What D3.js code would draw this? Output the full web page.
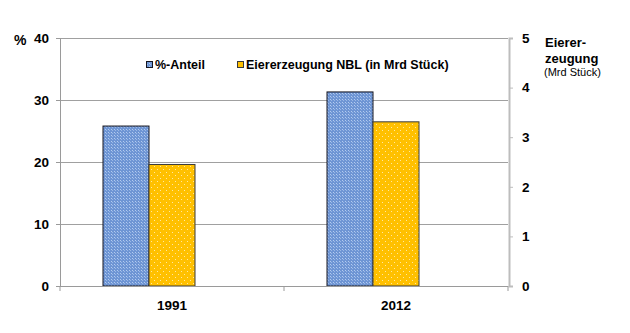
<!DOCTYPE html>
<html><head><meta charset="utf-8">
<script src="https://cdn.jsdelivr.net/npm/d3@7"></script>
<style>body{margin:0;background:#fff}svg{display:block}text{font-family:"Liberation Sans",Arial,sans-serif}</style>
</head><body>
<svg id="c" width="630" height="333"></svg>
<script>
const categories = ["1991", "2012"];
const seriesNames = ["%-Anteil", "Eiererzeugung NBL (in Mrd Stück)"];
const anteil = [25.8, 31.3];          // % (left axis)
const eiererzeugung = [2.45, 3.31];   // Mrd Stück (right axis)
const leftTicks = [0, 10, 20, 30, 40];
const rightTicks = [0, 1, 2, 3, 4, 5];
const slots = ["anteil", "eier", "empty"];

const svg = d3.select("#c");
const L = 60, R = 508, T = 38, B = 286;

const defs = svg.append("defs");
const pb = defs.append("pattern").attr("id","pBlue").attr("patternUnits","userSpaceOnUse").attr("width",3).attr("height",3);
pb.append("rect").attr("width",3).attr("height",3).attr("fill","#6E95D4");
pb.append("rect").attr("x",0).attr("y",0).attr("width",1).attr("height",1).attr("fill","#B3CBEF");
pb.append("rect").attr("x",1).attr("y",1).attr("width",1).attr("height",1).attr("fill","#9AB8E6");
const py = defs.append("pattern").attr("id","pYel").attr("patternUnits","userSpaceOnUse").attr("width",6).attr("height",6);
py.append("rect").attr("width",6).attr("height",6).attr("fill","#FFC000");
py.append("rect").attr("x",1).attr("y",1).attr("width",1).attr("height",1).attr("fill","#FFE8A0");
py.append("rect").attr("x",4).attr("y",4).attr("width",1).attr("height",1).attr("fill","#FFE8A0");

const x0 = d3.scaleBand().domain(categories).range([L, R]).paddingInner(0).paddingOuter(0);
const x1 = d3.scaleBand().domain(slots).range([0, x0.bandwidth()]).paddingInner(0).paddingOuter(0.935);
const yL = d3.scaleLinear().domain([0, 40]).range([B, T]);
const yR = d3.scaleLinear().domain([0, 5]).range([B, T]);

// gridlines
svg.append("g").selectAll("line").data(leftTicks.filter(d=>d>0)).join("line")
  .attr("x1", L).attr("x2", R).attr("y1", d=>yL(d)).attr("y2", d=>yL(d))
  .attr("stroke", "#A0A0A0").attr("stroke-width", 1).attr("shape-rendering","crispEdges");

// bars
const g = svg.append("g");
categories.forEach((c, i) => {
  g.append("rect").attr("x", x0(c) + x1("anteil")).attr("width", x1.bandwidth())
    .attr("y", yL(anteil[i])).attr("height", B - yL(anteil[i]))
    .attr("fill", "url(#pBlue)").attr("stroke", "#14141e").attr("stroke-width", 1);
  g.append("rect").attr("x", x0(c) + x1("eier")).attr("width", x1.bandwidth())
    .attr("y", yR(eiererzeugung[i])).attr("height", B - yR(eiererzeugung[i]))
    .attr("fill", "url(#pYel)").attr("stroke", "#3a3a3a").attr("stroke-width", 1);
});

// left axis
const axL = svg.append("g").attr("transform", `translate(${L},0)`)
  .call(d3.axisLeft(yL).tickValues(leftTicks).tickSize(4).tickPadding(7));
axL.select(".domain").attr("stroke", "#9A9A9A");
axL.selectAll(".tick line").attr("stroke", "#9A9A9A");
axL.selectAll(".tick text").attr("font-size", 13.5).attr("font-weight", "bold").attr("fill", "#000");

// right axis
const axR = svg.append("g").attr("transform", `translate(${R + 1},0)`)
  .call(d3.axisRight(yR).tickValues(rightTicks).tickFormat(d3.format("d")).tickSize(4).tickPadding(9));
axR.select(".domain").attr("stroke", "#BDBDBD").attr("stroke-width", 2);
axR.selectAll(".tick line").attr("stroke", "#BDBDBD");
axR.selectAll(".tick text").attr("font-size", 13.5).attr("font-weight", "bold").attr("fill", "#000");

// bottom axis
svg.append("line").attr("x1", L).attr("x2", R).attr("y1", B).attr("y2", B)
  .attr("stroke", "#9A9A9A").attr("shape-rendering","crispEdges");
const xb = svg.append("g").attr("transform", `translate(0,${B})`)
  .call(d3.axisBottom(x0).tickSize(0).tickPadding(14));
xb.select(".domain").remove();
xb.selectAll(".tick text").attr("font-size", 13.5).attr("font-weight", "bold").attr("fill", "#000");
svg.append("g").selectAll("line").data([L, x0(categories[1]), R]).join("line")
  .attr("x1", d=>d).attr("x2", d=>d).attr("y1", B).attr("y2", B + 5)
  .attr("stroke", "#9A9A9A");

// axis titles
svg.append("text").attr("x", 14).attr("y", 45).attr("font-size", 14).attr("font-weight", "bold").text("%");
const rt = svg.append("text").attr("x", 545).attr("font-weight", "bold").attr("font-size", 13);
rt.append("tspan").attr("x", 545).attr("y", 47).text("Eierer-");
rt.append("tspan").attr("x", 545).attr("y", 63).text("zeugung");
svg.append("text").attr("x", 544).attr("y", 76).attr("font-size", 11).text("(Mrd Stück)");

// legend
const leg = [{n: seriesNames[0], f: "url(#pBlue)", s: "#14141e", x: 146}, {n: seriesNames[1], f: "#FFC000", s: "#3a3a3a", x: 237}];
const lg = svg.append("g").selectAll("g").data(leg).join("g").attr("transform", d=>`translate(${d.x},0)`);
lg.append("rect").attr("x", 0.5).attr("y", 61.5).attr("width", 6).attr("height", 6).attr("fill", d=>d.f).attr("stroke", d=>d.s);
lg.append("text").attr("x", 9).attr("y", 69).attr("font-size", 12.5).attr("font-weight", "bold").text(d=>d.n);
</script>
</body></html>
